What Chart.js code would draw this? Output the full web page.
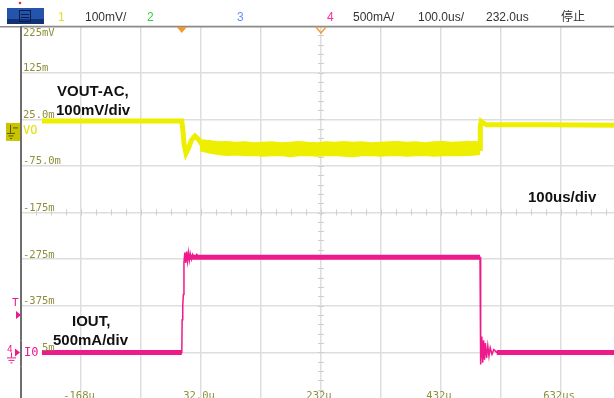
<!DOCTYPE html>
<html>
<head>
<meta charset="utf-8">
<script src="https://cdn.jsdelivr.net/npm/chart.js@4.4.1/dist/chart.umd.min.js"></script>
<style>
html, body { margin: 0; padding: 0; background: #fff; overflow: hidden; width: 614px; height: 398px; }
#wrap { position: absolute; left: 0; top: 0; }
</style>
</head>
<body>
<div id="wrap"><canvas id="scope" width="628" height="400"></canvas></div>
<script>
// Time axis (us) - 100us/div, 232us at centre
const xGrid = [-268, -168, -68, 32, 132, 232, 332, 432, 532, 632, 732];
const xLabelVals = [-168, 32, 232, 432, 632];
const xLabels = ['-168u', '32.0u', '232u', '432u', '632us'];

// CH1 axis (mV) - 100mV/div
const yGrid = [225, 125, 25, -75, -175, -275, -375, -475, -575];
const yLabels = ['225mV', '125m', '25.0m', '-75.0m', '-175m', '-275m', '-375m', '-475m'];

// CH1 VOUT-AC (mV)
const vTime = [-233, 0, 1.5, 4, 7, 11, 16, 22, 28, 34, 40, 497, 497.5, 499, 502, 508, 600, 732];
const vOut  = [21, 21, 5, -30, -48, -38, -20, -11, -18, -30, -38, -38, 10, 20, 17, 13, 13, 12];

// CH1 ripple envelope while the load is on (mV)
const bandTime = [30, 45, 60, 75, 90, 105, 120, 135, 150, 165, 180, 195, 210, 225, 240, 255,
                  270, 285, 300, 315, 330, 345, 360, 375, 390, 405, 420, 435, 450, 465, 480, 497];
const bandHigh = [-19, -21, -24, -23, -25, -24, -26, -25, -24, -26, -25, -23, -25, -26, -24, -25,
                  -23, -25, -24, -26, -25, -24, -23, -25, -24, -26, -24, -23, -25, -24, -23, -24];
const bandLow  = [-42, -47, -50, -52, -51, -53, -52, -54, -53, -52, -55, -53, -52, -54, -53, -52,
                  -54, -55, -53, -52, -54, -53, -52, -54, -53, -52, -54, -53, -52, -53, -52, -50];

// CH4 IOUT (A) - 500mA/div, full trace with edges and ringing
const iTime = [-233, 0, 0.6, 1.6, 2.6, 3.6, 5, 6.5, 8, 9.5, 11, 12.5, 14, 16, 18, 21, 25, 28,
               497, 497.6, 498.6, 500, 501.5, 503, 504.5, 506, 508, 510, 512, 514, 517, 520, 525, 732];
const iOut  = [0, 0, 0.35, 0.5, 0.62, 0.97, 1.07, 0.96, 1.08, 0.98, 1.07, 0.99, 1.06, 1.0, 1.05, 1.01, 1.05, 1.02,
               1.02, 0.4, -0.13, 0.17, -0.11, 0.13, -0.08, 0.1, -0.06, 0.07, -0.04, 0.05, -0.02, 0.03, 0, 0];
// CH4 flat (noisy, thick) parts
const iFlatTime = [-233, 0, 0, 12, 497, 497, 525, 732];
const iFlat     = [0, 0, null, 1.02, 1.02, null, 0, 0];

const YELLOW = '#eeee00';
const PINK = '#ee1a8c';
const OLIVE = '#8e8e3c';

function pts(xs, ys) {
    return xs.map((x, i) => ({ x: x, y: ys[i] }));
}

// Screen furniture drawn around the traces
const scopeDecor = {
    id: 'scopeDecor',
    beforeDatasetsDraw(chart) {
        const c = chart.ctx;
        const xs = chart.scales.x, ys = chart.scales.y;
        const cx = xs.getPixelForValue(232);
        const cy = ys.getPixelForValue(-175);
        c.save();
        c.strokeStyle = '#cfcfcf';
        c.lineWidth = 1;
        // minor ticks on centre lines
        for (let v = -575; v <= 225; v += 20) {
            const y = Math.round(ys.getPixelForValue(v)) + 0.5;
            c.beginPath(); c.moveTo(cx - 3, y); c.lineTo(cx + 3, y); c.stroke();
        }
        for (let t = -268; t <= 732; t += 25) {
            const x = Math.round(xs.getPixelForValue(t)) + 0.5;
            c.beginPath(); c.moveTo(x, cy - 3); c.lineTo(x, cy + 3); c.stroke();
        }
        c.restore();
    },
    afterDraw(chart) {
        const c = chart.ctx;
        const a = chart.chartArea;
        const xs = chart.scales.x, ys = chart.scales.y, y2 = chart.scales.y2;
        c.save();

        // header separator and left border
        c.fillStyle = '#8c8c8c';
        c.fillRect(0, a.top, chart.width, 1.5);
        c.fillStyle = '#6e6e6e';
        c.fillRect(a.left - 1, a.top, 2, a.bottom - a.top);

        // y labels (CH1 volts)
        c.font = '10.5px "DejaVu Sans Mono"';
        c.fillStyle = OLIVE;
        c.textAlign = 'left';
        c.textBaseline = 'alphabetic';
        yLabels.forEach((s, i) => {
            const y = ys.getPixelForValue(yGrid[i]);
            c.fillText(s, a.left + 2, i === 0 ? y + 10 : y - 1.5);
        });
        // x labels (time)
        c.textAlign = 'center';
        xLabelVals.forEach((v, i) => {
            c.fillText(xLabels[i], xs.getPixelForValue(v) - 2, a.bottom);
        });

        // trigger position markers
        const tx = xs.getPixelForValue(0);
        c.fillStyle = '#f29a2a';
        c.beginPath(); c.moveTo(tx - 5, a.top + 1); c.lineTo(tx + 5, a.top + 1); c.lineTo(tx, a.top + 7); c.closePath(); c.fill();
        const mx = xs.getPixelForValue(232);
        c.strokeStyle = '#f0a040'; c.lineWidth = 1.5;
        c.beginPath(); c.moveTo(mx - 5, a.top + 1); c.lineTo(mx, a.top + 7); c.lineTo(mx + 5, a.top + 1); c.stroke();

        // CH1 ground marker
        const g1 = ys.getPixelForValue(0);
        c.fillStyle = '#c8c400';
        c.fillRect(6, g1 - 8, 14, 18);
        c.strokeStyle = '#5a5800'; c.lineWidth = 1;
        c.beginPath();
        c.moveTo(10.5, g1 - 6); c.lineTo(10.5, g1 + 2);
        c.moveTo(7, g1 + 2.5); c.lineTo(15, g1 + 2.5);
        c.moveTo(8.5, g1 + 5); c.lineTo(13.5, g1 + 5);
        c.moveTo(10, g1 + 7.5); c.lineTo(12, g1 + 7.5);
        c.moveTo(13, g1 - 3); c.lineTo(18, g1 - 3);
        c.stroke();
        c.font = '12px "DejaVu Sans Mono"';
        c.fillStyle = '#e2e200';
        c.textAlign = 'left'; c.textBaseline = 'middle';
        c.fillText('VO', a.left + 2, g1);

        // CH4 trigger level marker
        const tl = y2.getPixelForValue(0.4);
        c.fillStyle = PINK;
        c.font = '11px "DejaVu Sans Mono"';
        c.fillText('T', 12, tl - 12);
        c.beginPath(); c.moveTo(16, tl - 4); c.lineTo(21, tl); c.lineTo(16, tl + 4); c.closePath(); c.fill();

        // CH4 ground marker (covers the start of the -475m label)
        const g4 = y2.getPixelForValue(0);
        c.fillStyle = '#fff';
        c.fillRect(0, g4 - 12, a.left + 20, 26);
        c.fillStyle = '#6e6e6e';
        c.fillRect(a.left - 1, g4 - 12, 2, 26);
        c.fillStyle = PINK;
        c.font = '9px "DejaVu Sans"';
        c.fillText('4', 7, g4 - 3);
        c.beginPath(); c.moveTo(15, g4 - 4); c.lineTo(20, g4); c.lineTo(15, g4 + 4); c.closePath(); c.fill();
        c.strokeStyle = PINK; c.lineWidth = 1;
        c.beginPath();
        c.moveTo(11.5, g4); c.lineTo(11.5, g4 + 5);
        c.moveTo(7, g4 + 5.5); c.lineTo(16, g4 + 5.5);
        c.moveTo(8.5, g4 + 8); c.lineTo(14.5, g4 + 8);
        c.moveTo(10.5, g4 + 10.5); c.lineTo(12.5, g4 + 10.5);
        c.stroke();
        c.font = '12px "DejaVu Sans Mono"';
        c.fillText('I0', a.left + 3, g4);

        // annotations
        c.fillStyle = '#111';
        c.font = 'bold 15px "Liberation Sans"';
        c.textBaseline = 'middle';
        c.fillText('VOUT-AC,', 57, 92);
        c.fillText('100mV/div', 56, 111);
        c.fillText('100us/div', 528, 198);
        c.fillText('IOUT,', 72, 322);
        c.fillText('500mA/div', 53, 341);

        // header bar
        c.fillStyle = '#2454ac';
        c.fillRect(7, 8, 37, 16);
        c.fillStyle = '#123276';
        c.fillRect(7, 19, 37, 5);
        c.strokeStyle = '#0c1d48'; c.lineWidth = 1;
        c.strokeRect(19.5, 10.5, 11, 11);
        c.beginPath(); c.moveTo(21, 14.5); c.lineTo(29, 14.5); c.moveTo(21, 17.5); c.lineTo(29, 17.5); c.stroke();
        c.fillStyle = '#e03030';
        c.beginPath(); c.arc(20, 3, 1.3, 0, Math.PI * 2); c.fill();

        c.textBaseline = 'alphabetic';
        c.font = '12px "Liberation Sans"';
        const head = [
            ['1', 58, '#e0e020'], ['100mV/', 85, '#333'], ['2', 147, '#3ccc3c'], ['3', 237, '#6a8cff'],
            ['4', 327, '#ff2a9a'], ['500mA/', 353, '#333'], ['100.0us/', 418, '#333'], ['232.0us', 486, '#333']
        ];
        head.forEach(h => { c.fillStyle = h[2]; c.fillText(h[0], h[1], 21); });
        c.fillStyle = '#333';
        c.font = '12px "Noto Sans CJK SC"';
        c.fillText('停止', 561, 21);
        c.restore();
    }
};

const ctx = document.getElementById('scope').getContext('2d');
const scopeChart = new Chart(ctx, {
    type: 'line',
    data: {
        datasets: [
            {
                label: 'VOUT-AC',
                data: pts(vTime, vOut),
                borderColor: YELLOW,
                borderWidth: 5,
                yAxisID: 'y'
            },
            {
                label: 'ripple high',
                data: pts(bandTime, bandHigh),
                borderColor: YELLOW,
                backgroundColor: YELLOW,
                borderWidth: 1.5,
                fill: '+1',
                yAxisID: 'y'
            },
            {
                label: 'ripple low',
                data: pts(bandTime, bandLow),
                borderColor: YELLOW,
                borderWidth: 1.5,
                yAxisID: 'y'
            },
            {
                label: 'IOUT',
                data: pts(iFlatTime, iFlat),
                borderColor: PINK,
                borderWidth: 5,
                spanGaps: false,
                yAxisID: 'y2'
            },
            {
                label: 'IOUT edges',
                data: pts(iTime, iOut),
                borderColor: PINK,
                borderWidth: 1.5,
                yAxisID: 'y2'
            }
        ]
    },
    options: {
        responsive: false,
        animation: false,
        layout: { padding: { left: 21, top: 26, right: 7, bottom: 1 } },
        elements: { point: { radius: 0 }, line: { tension: 0, borderCapStyle: 'butt' } },
        plugins: { legend: { display: false }, tooltip: { enabled: false } },
        scales: {
            x: {
                type: 'linear',
                min: -268,
                max: 732,
                afterBuildTicks: (axis) => { axis.ticks = xGrid.map(v => ({ value: v })); },
                ticks: { display: false },
                grid: { color: '#dedede', lineWidth: 1.5, drawTicks: false },
                border: { display: false }
            },
            y: {
                min: -575,
                max: 225,
                afterBuildTicks: (axis) => { axis.ticks = yGrid.map(v => ({ value: v })); },
                ticks: { display: false },
                grid: { color: '#dedede', lineWidth: 1.5, drawTicks: false },
                border: { display: false }
            },
            y2: {
                display: false,
                min: -0.5,
                max: 3.5
            }
        }
    },
    plugins: [scopeDecor]
});
</script>
</body>
</html>
